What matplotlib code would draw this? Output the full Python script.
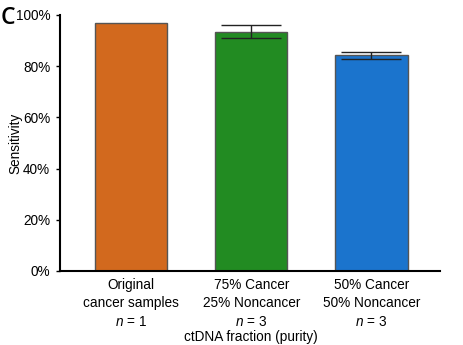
import matplotlib
matplotlib.use("Agg")
import matplotlib.pyplot as plt
from matplotlib.ticker import PercentFormatter

plt.rcParams["font.family"] = ["Liberation Sans", "DejaVu Sans"]
plt.rcParams["mathtext.fontset"] = "custom"
plt.rcParams["mathtext.it"] = "Liberation Sans:italic"
plt.rcParams["mathtext.rm"] = "Liberation Sans"

categories = ["Original\ncancer samples\n$n$ = 1",
              "75% Cancer\n25% Noncancer\n$n$ = 3",
              "50% Cancer\n50% Noncancer\n$n$ = 3"]
sensitivity = [97.0, 93.5, 84.2]
errors = [0.0, 2.6, 1.2]
colors = ["#D2691E", "#228B22", "#1B74CD"]
yticks = [0, 20, 40, 60, 80, 100]

fig = plt.figure(figsize=(4.64, 3.45), dpi=100)
ax = fig.add_axes([60 / 464, 1 - 271 / 345, 380 / 464, 256 / 345])

x = list(range(len(categories)))
ax.bar(x, sensitivity, width=0.6, color=colors, edgecolor="#555555", linewidth=1.0, zorder=2)
ax.errorbar(x[1:], sensitivity[1:], yerr=errors[1:], fmt="none", ecolor="#222222",
            elinewidth=1.0, capsize=21.6, capthick=1.0, zorder=3)

ax.set_xlim(-0.59, 2.57)
ax.set_ylim(0, 100)
ax.set_yticks(yticks)
ax.yaxis.set_major_formatter(PercentFormatter(decimals=0))
ax.set_xticks(x)
ax.set_xticklabels(categories, fontsize=9.8, linespacing=1.4)
ax.tick_params(axis="y", labelsize=9.8, length=3, width=1, direction="out", pad=4)
ax.tick_params(axis="x", length=0, pad=5)
for side in ("top", "right"):
    ax.spines[side].set_visible(False)
ax.spines["left"].set_linewidth(1.5)
ax.spines["bottom"].set_linewidth(1.5)

fig.text(15 / 464, 1 - 143 / 345, "Sensitivity", rotation=90, ha="center", va="center", fontsize=9.8)
fig.text(251 / 464, 1 - 337 / 345, "ctDNA fraction (purity)", ha="center", va="center", fontsize=9.8)
fig.text(1 / 464, 1 - 18 / 345, "C", ha="left", va="center", fontsize=16.5,
         fontfamily="Open Sans", fontweight="semibold")

fig.savefig("out.png", dpi=100)
